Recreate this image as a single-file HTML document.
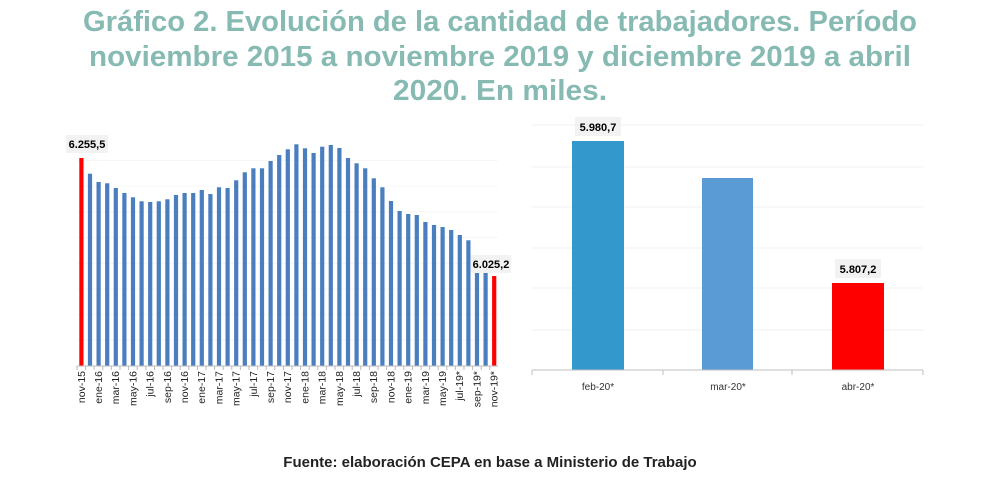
<!DOCTYPE html>
<html><head><meta charset="utf-8"><style>
body{margin:0;background:#fff;width:1000px;height:500px;overflow:hidden}
svg{display:block}
</style></head><body>
<svg id="s" width="1000" height="500" xmlns="http://www.w3.org/2000/svg" font-family="Liberation Sans, sans-serif">
<g fill="#86bab2" font-weight="bold" font-size="29">
<text x="500" y="31" text-anchor="middle" textLength="834" lengthAdjust="spacingAndGlyphs">Gráfico 2. Evolución de la cantidad de trabajadores. Período</text>
<text x="500" y="66" text-anchor="middle" textLength="822" lengthAdjust="spacingAndGlyphs">noviembre 2015 a noviembre 2019 y diciembre 2019 a abril</text>
<text x="500" y="100" text-anchor="middle" textLength="214" lengthAdjust="spacingAndGlyphs">2020. En miles.</text>
</g>
<g id="left"></g>
<g id="right" stroke="#f0f0f0">
<line x1="532" x2="923" y1="125" y2="125"/><line x1="532" x2="923" y1="167" y2="167"/><line x1="532" x2="923" y1="207" y2="207"/><line x1="532" x2="923" y1="248" y2="248"/><line x1="532" x2="923" y1="288" y2="288"/><line x1="532" x2="923" y1="330" y2="330"/>
</g>
<rect x="572" y="141" width="52" height="229" fill="#3399cc"/>
<rect x="702" y="178" width="51" height="192" fill="#5b9bd5"/>
<rect x="832" y="283" width="52" height="87" fill="#ff0000"/>
<g stroke="#bfbfbf"><line x1="532" x2="923" y1="370" y2="370"/>
<line x1="532" x2="532" y1="370" y2="375"/><line x1="663" x2="663" y1="370" y2="375"/><line x1="792" x2="792" y1="370" y2="375"/><line x1="923" x2="923" y1="370" y2="375"/></g>
<g font-size="10" fill="#333" text-anchor="middle"><text x="598" y="390">feb-20*</text><text x="728" y="390">mar-20*</text><text x="858" y="390">abr-20*</text></g>
<rect x="575" y="117" width="46" height="19" fill="#f2f2f2"/><text x="598" y="131" font-size="11" font-weight="bold" text-anchor="middle">5.980,7</text>
<rect x="835" y="259" width="46" height="19" fill="#f2f2f2"/><text x="858" y="273" font-size="11" font-weight="bold" text-anchor="middle">5.807,2</text>
<text x="490" y="467" font-size="15" font-weight="bold" text-anchor="middle" fill="#222">Fuente: elaboración CEPA en base a Ministerio de Trabajo</text>
</svg>
<script>
var z=[84,131,156,160,174,189,202,214,216,214,208,195,189,189,180,192,172,174,151,127,115,115,93,75,58,43,55,69,50,45,54,84,100,115,145,172,213,243,252,255,276,285,291,300,315,331,425,425,438];
var m=["nov","dic","ene","feb","mar","abr","may","jun","jul","ago","sep","oct"];
var g=document.getElementById('left'),h='';
for(var y=0;y<9;y++){var yy=366-y*25.7;h+='<line x1="77" x2="498" y1="'+yy+'" y2="'+yy+'" stroke="#f6f6f6"/>';}
for(var i=0;i<49;i++){var x=79.3+i*8.6,t=130+z[i]/3;var c=(i==0||i==48)?'#ff0000':'#4a7ebf';
h+='<rect x="'+x.toFixed(1)+'" y="'+t.toFixed(1)+'" width="4.2" height="'+(366-t).toFixed(1)+'" fill="'+c+'"/>';
if(i%2==0){var yr=15+Math.floor((i+10)/12);var lab=m[i%12]+'-'+yr+(i>=44?'*':'');var cx=x+2;
h+='<text transform="translate('+(cx+3.5).toFixed(1)+',371) rotate(-90)" text-anchor="end" font-size="10.5" fill="#222">'+lab+'</text>';}
h+='<line x1="'+(77+i*8.6).toFixed(1)+'" x2="'+(77+i*8.6).toFixed(1)+'" y1="366" y2="370" stroke="#bbb"/>';}
h+='<line x1="77" x2="498" y1="366" y2="366" stroke="#bbb"/>';
h+='<rect x="66" y="135" width="42" height="18" fill="#f2f2f2"/><text x="87" y="148" font-size="11" font-weight="bold" text-anchor="middle">6.255,5</text>';
h+='<rect x="471" y="255" width="40" height="18" fill="#f2f2f2"/><text x="491" y="268" font-size="11" font-weight="bold" text-anchor="middle">6.025,2</text>';
g.innerHTML=h;
</script>
</body></html>
